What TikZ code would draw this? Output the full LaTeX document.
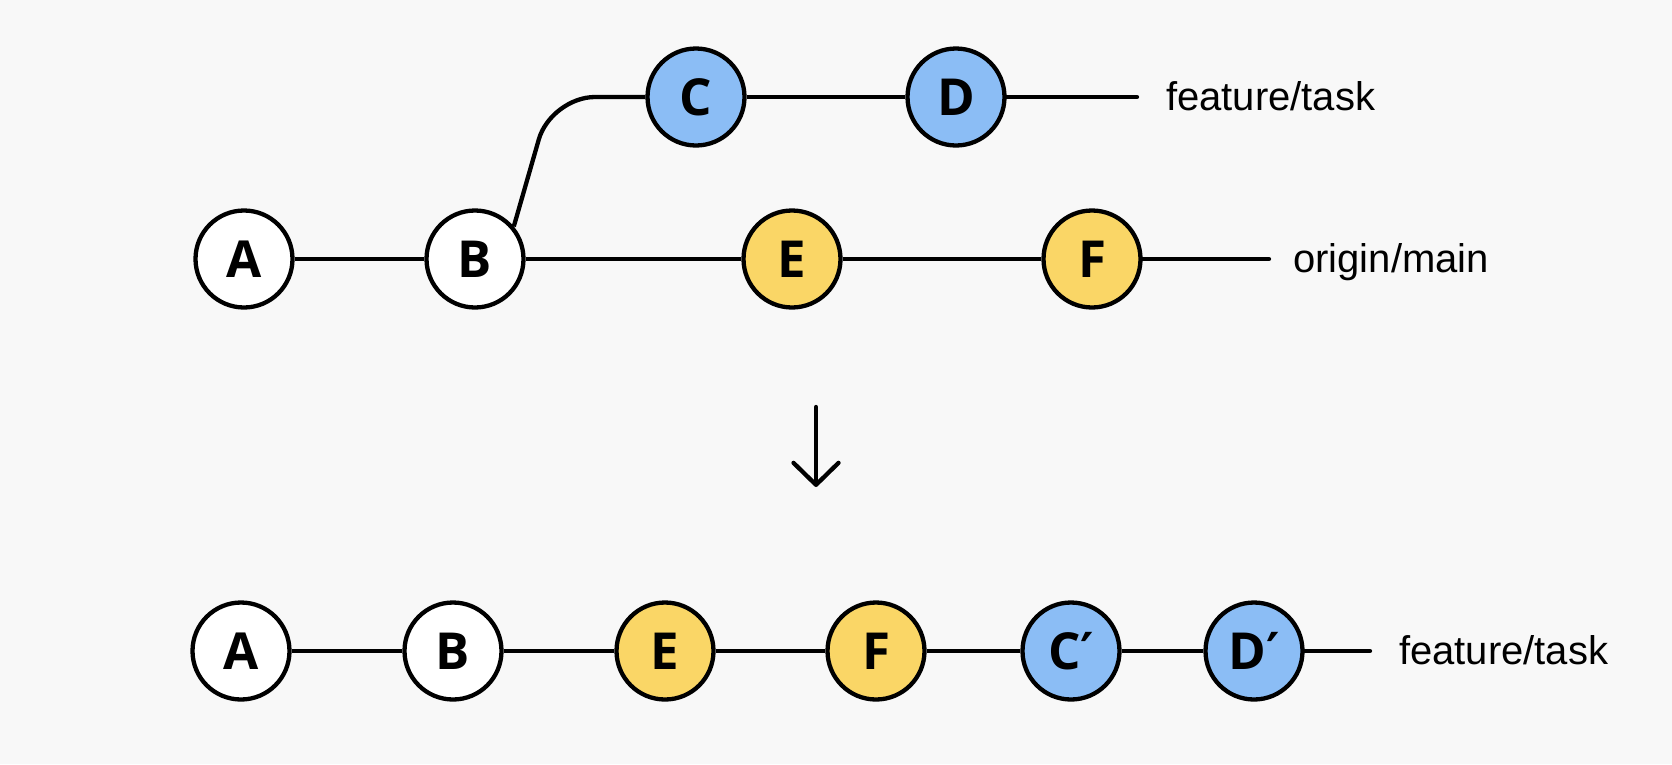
\documentclass[tikz,border=0pt]{standalone}
\usepackage{fontspec}
\setmainfont{Open Sans}
\newfontfamily\labelfont{Liberation Sans}
\newfontfamily\primefont{DejaVu Sans}
\newcommand{\prm}{{\primefont\bfseries ′}}
\usetikzlibrary{arrows.meta}
\definecolor{bg}{HTML}{F8F8F8}
\definecolor{cblue}{HTML}{8BBDF5}
\definecolor{cyellow}{HTML}{FAD666}
\begin{document}
\begin{tikzpicture}[x=1pt,y=-1pt,
  commit/.style={circle, draw=black, line width=4.3pt, minimum size=97pt, inner sep=0pt,
    font=\bfseries\fontsize{51}{51}\selectfont},
  plainc/.style={commit, fill=white},
  bluec/.style={commit, fill=cblue},
  yelc/.style={commit, fill=cyellow},
  edge/.style={line width=4.3pt},
  lbl/.style={anchor=base west, inner sep=0pt, font=\labelfont\fontsize{40}{40}\selectfont}]
\fill[bg] (0,0) rectangle (1672,764);
\useasboundingbox (0,0) rectangle (1672,764);

% top graph
\node[plainc] (A1) at (244,259) {A};
\node[plainc] (B1) at (475,259) {B};
\node[bluec]  (C1) at (696,97) {C};
\node[bluec]  (D1) at (956,97) {D};
\node[yelc]   (E1) at (792,259) {E};
\node[yelc]   (F1) at (1092,259) {F};
\coordinate (t1) at (1137,97);
\coordinate (t2) at (1269,259);
\coordinate (bend) at (551,97);
\node[lbl] (L1) at (1166,110) {feature/task};
\node[lbl] (L2) at (1293,272) {origin/main};

\draw[edge] (A1) -- (B1);
\draw[edge] (B1) -- (E1);
\draw[edge] (E1) -- (F1);
\draw[edge, line cap=round] (F1) -- (t2);
\draw[edge, rounded corners=44pt] (B1.40) -- (bend) -- (C1);
\draw[edge] (C1) -- (D1);
\draw[edge, line cap=round] (D1) -- (t1);

% arrow
\coordinate (ar1) at (816,407);
\coordinate (ar2) at (816,487);
\draw[edge, line cap=round, -{Straight Barb[length=22pt,width=45pt,line join=round,line cap=round]}] (ar1) -- (ar2);

% bottom graph
\node[plainc] (A2) at (241,651) {A};
\node[plainc] (B2) at (453,651) {B};
\node[yelc]   (E2) at (665,651) {E};
\node[yelc]   (F2) at (876,651) {F};
\node[bluec]  (C2) at (1071,651) {C\prm};
\node[bluec]  (D2) at (1254,651) {D\prm};
\coordinate (t3) at (1370,651);
\node[lbl] (L3) at (1399,664) {feature/task};

\draw[edge] (A2) -- (B2);
\draw[edge] (B2) -- (E2);
\draw[edge] (E2) -- (F2);
\draw[edge] (F2) -- (C2);
\draw[edge] (C2) -- (D2);
\draw[edge, line cap=round] (D2) -- (t3);
\end{tikzpicture}
\end{document}
